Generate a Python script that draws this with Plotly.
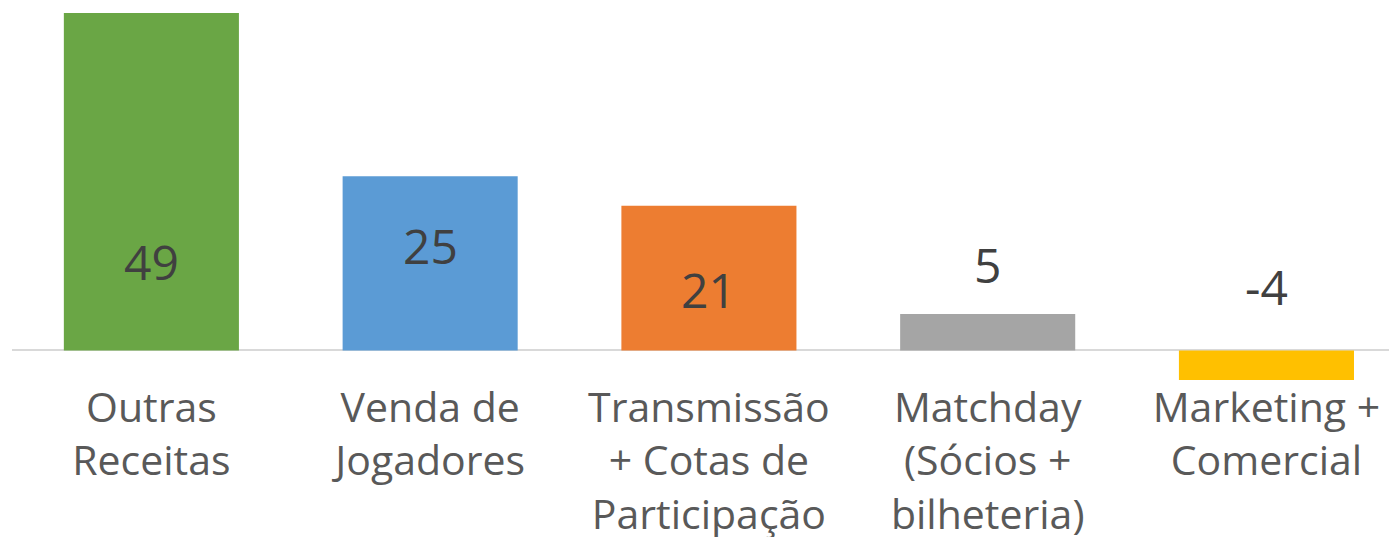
import plotly.graph_objects as go

categories = ["Outras<br>Receitas", "Venda de<br>Jogadores", "Transmissão<br>+ Cotas de<br>Participação",
              "Matchday<br>(Sócios +<br>bilheteria)", "Marketing +<br>Comercial"]
values = [49, 25.3, 21, 5.3, -4.3]
colors = ["#6AA645", "#5B9BD5", "#ED7D31", "#A5A5A5", "#FFC000"]
label_y = [12.9, 15.2, 8.8, 12.5, 9.25]

FONT = "Open Sans"

fig = go.Figure()
fig.add_trace(go.Bar(x=list(range(len(categories))), y=values, marker=dict(color=colors, line=dict(width=0)),
                     hoverinfo="skip"))

for i, (v, ly) in enumerate(zip(values, label_y)):
    fig.add_annotation(x=i, y=ly, text=f"{round(v):d}", showarrow=False,
                       font=dict(family=FONT, size=48, color="#404040"),
                       xanchor="center", yanchor="middle")

fig.update_layout(
    width=1397, height=537,
    margin=dict(l=4, r=0, t=0, b=165),
    paper_bgcolor="white", plot_bgcolor="white",
    bargap=0.372, showlegend=False,
    xaxis=dict(tickmode="array", tickvals=list(range(len(categories))), ticktext=categories,
               range=[-0.5, 4.497], showgrid=False, showline=False, zeroline=False, automargin=False,
               ticks="", tickfont=dict(family=FONT, size=41, color="#595959")),
    yaxis=dict(range=[-4.3, 49.71], showgrid=False, showticklabels=False, zeroline=True, automargin=False,
               zerolinecolor="#D9D9D9", zerolinewidth=2, showline=False),
)

fig.write_html("out.html")
